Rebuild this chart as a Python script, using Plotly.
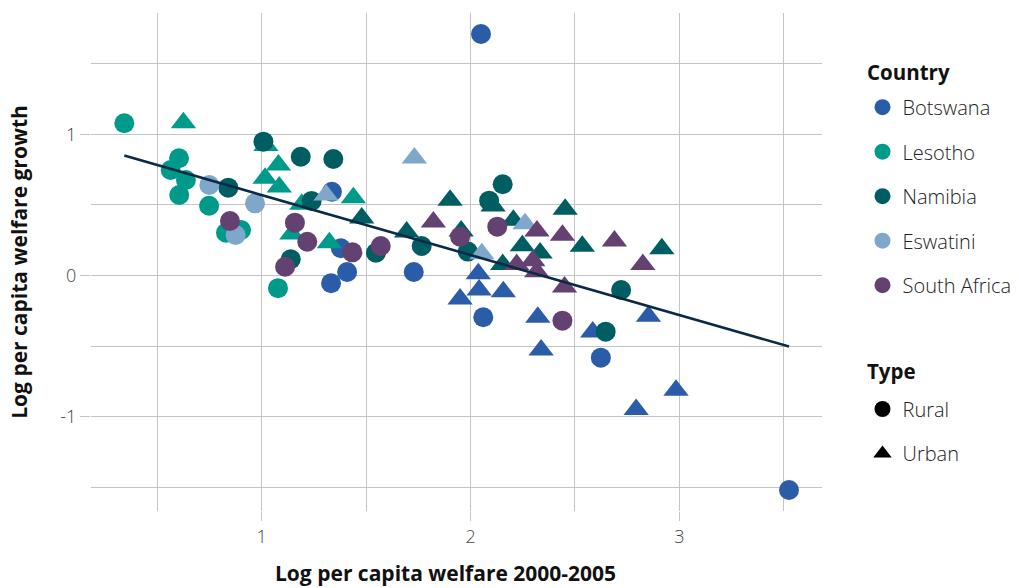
import plotly.graph_objects as go

# ---------------- data ----------------
countries = ["Botswana", "Lesotho", "Namibia", "Eswatini", "South Africa"]
colors = ["#2b5ca8", "#009a8b", "#005e63", "#7fa7cc", "#634272"]

botswana_rural_x = [2.050, 3.525, 1.332, 1.409, 1.728, 1.379, 1.336, 2.061, 2.624]
botswana_rural_y = [1.710, -1.519, -0.055, 0.025, 0.025, 0.193, 0.593, -0.296, -0.582]
botswana_urban_x = [2.037, 2.041, 1.950, 2.157, 2.322, 2.338, 2.585, 2.852, 2.984, 2.793]
botswana_urban_y = [0.013, -0.103, -0.166, -0.115, -0.296, -0.528, -0.400, -0.289, -0.813, -0.950]

lesotho_rural_x = [0.342, 0.604, 0.564, 0.637, 0.605, 0.748, 0.829, 0.901, 1.078]
lesotho_rural_y = [1.078, 0.830, 0.747, 0.676, 0.570, 0.494, 0.303, 0.322, -0.090]
lesotho_urban_x = [0.625, 1.020, 1.080, 1.016, 1.084, 1.192, 1.439, 1.324, 1.144]
lesotho_urban_y = [1.082, 0.920, 0.783, 0.688, 0.627, 0.504, 0.551, 0.232, 0.294]

namibia_rural_x = [0.840, 1.008, 1.187, 1.343, 1.239, 1.139, 1.547, 1.766, 1.987, 2.089, 2.154, 2.721, 2.647]
namibia_rural_y = [0.622, 0.948, 0.841, 0.825, 0.528, 0.115, 0.161, 0.209, 0.169, 0.530, 0.646, -0.103, -0.398]
namibia_urban_x = [1.479, 1.694, 1.902, 1.955, 2.108, 2.205, 2.248, 2.154, 2.333, 2.453, 2.535, 2.916]
namibia_urban_y = [0.407, 0.308, 0.533, 0.315, 0.492, 0.391, 0.211, 0.077, 0.159, 0.469, 0.207, 0.190]

eswatini_rural_x = [0.749, 0.968, 0.875]
eswatini_rural_y = [0.641, 0.511, 0.287]
eswatini_urban_x = [1.731, 1.308, 2.261, 2.054]
eswatini_urban_y = [0.832, 0.570, 0.367, 0.154]

southafrica_rural_x = [0.848, 1.159, 1.218, 1.112, 1.434, 1.570, 1.950, 2.128, 2.440]
southafrica_rural_y = [0.386, 0.374, 0.239, 0.062, 0.164, 0.209, 0.275, 0.346, -0.320]
southafrica_urban_x = [1.822, 2.318, 2.440, 2.221, 2.298, 2.317, 2.450, 2.689, 2.825]
southafrica_urban_y = [0.379, 0.315, 0.285, 0.077, 0.105, 0.027, -0.081, 0.244, 0.077]

rural_x = [botswana_rural_x, lesotho_rural_x, namibia_rural_x, eswatini_rural_x, southafrica_rural_x]
rural_y = [botswana_rural_y, lesotho_rural_y, namibia_rural_y, eswatini_rural_y, southafrica_rural_y]
urban_x = [botswana_urban_x, lesotho_urban_x, namibia_urban_x, eswatini_urban_x, southafrica_urban_x]
urban_y = [botswana_urban_y, lesotho_urban_y, namibia_urban_y, eswatini_urban_y, southafrica_urban_y]

types = ["Rural", "Urban"]
type_symbols = ["circle", "triangle-up"]

trend_intercept = 0.995
trend_slope = -0.425
trend_color = "#0b2a47"

x_ticks = [1, 2, 3]
y_ticks = [-1, 0, 1]

x_title = "Log per capita welfare 2000-2005"
y_title = "Log per capita welfare growth"

# ---------------- figure ----------------
FONT = "Open Sans, Segoe UI, sans-serif"
GRID = "#c4c4c4"

fig = go.Figure()

for i, c in enumerate(countries):
    fig.add_trace(go.Scatter(
        x=rural_x[i], y=rural_y[i], mode="markers", name=c + " rural",
        marker=dict(symbol=type_symbols[0], size=20, color=colors[i], line=dict(width=0)),
        showlegend=False, hoverinfo="x+y+name"))
    fig.add_trace(go.Scatter(
        x=urban_x[i], y=urban_y[i], mode="markers", name=c + " urban",
        marker=dict(symbol=type_symbols[1], size=22, color=colors[i], line=dict(width=0)),
        showlegend=False, hoverinfo="x+y+name"))

all_x = [v for lst in rural_x + urban_x for v in lst]
x_min, x_max = min(all_x), max(all_x)
fig.add_trace(go.Scatter(
    x=[x_min, x_max],
    y=[trend_intercept + trend_slope * x_min, trend_intercept + trend_slope * x_max],
    mode="lines", line=dict(color=trend_color, width=2.6), showlegend=False, hoverinfo="skip"))

# legend entries
for i, c in enumerate(countries):
    fig.add_trace(go.Scatter(
        x=[None], y=[None], mode="markers", name=c, legend="legend", legendgroup="c" + str(i),
        marker=dict(symbol="circle", size=20, color=colors[i])))
for j, t in enumerate(types):
    fig.add_trace(go.Scatter(
        x=[None], y=[None], mode="markers", name=t, legend="legend2", legendgroup="t" + str(j),
        marker=dict(symbol=type_symbols[j], size=20, color="#000000")))

legend_common = dict(
    font=dict(family=FONT, size=20, color="#222222", weight=300),
    bgcolor="rgba(0,0,0,0)", borderwidth=0, xanchor="left", yanchor="top",
    tracegroupgap=15.5, itemclick=False, itemdoubleclick=False,
)

fig.update_layout(
    width=1019, height=588,
    margin=dict(l=91, r=197, t=13, b=77, autoexpand=False),
    paper_bgcolor="white", plot_bgcolor="white",
    font=dict(family=FONT, color="#222222"),
    xaxis=dict(
        range=[0.1825, 3.683], tickmode="array", tickvals=x_ticks,
        ticktext=[str(v) for v in x_ticks], automargin=False,
        showgrid=True, gridcolor=GRID, gridwidth=1.2, zeroline=False, showline=False,
        ticks="outside", ticklen=9, tickcolor=GRID, tickwidth=1.2,
        tickfont=dict(family=FONT, size=18, color="#444444", weight=300),
        minor=dict(tickmode="array", tickvals=[0.5, 1.5, 2.5, 3.5], showgrid=True,
                   gridcolor=GRID, gridwidth=1.2, ticks=""),
    ),
    yaxis=dict(
        range=[-1.668, 1.859], tickmode="array", tickvals=y_ticks,
        ticktext=[str(v) for v in y_ticks], automargin=False,
        showgrid=True, gridcolor=GRID, gridwidth=1.2, zeroline=False, showline=False,
        ticks="outside", ticklen=10, tickcolor=GRID, tickwidth=1.2,
        tickfont=dict(family=FONT, size=18, color="#444444", weight=300),
        minor=dict(tickmode="array", tickvals=[-1.5, -0.5, 0.5, 1.5], showgrid=True,
                   gridcolor=GRID, gridwidth=1.2, ticks=""),
        title=dict(text=y_title, standoff=26,
                   font=dict(family=FONT, size=21, color="#111111", weight="bold")),
    ),
    legend=dict(x=1.0554, y=0.85, **legend_common),
    legend2=dict(x=1.0554, y=0.244, **legend_common),
    showlegend=True,
    annotations=[
        dict(text="<b>" + x_title + "</b>", xref="paper", yref="paper", x=0.4843, y=-0.1245,
             xanchor="center", yanchor="middle", showarrow=False,
             font=dict(family=FONT, size=21, color="#111111")),
        dict(text="<b>Country</b>", xref="paper", yref="paper", x=1.059, y=0.8815,
             xanchor="left", yanchor="middle", showarrow=False,
             font=dict(family=FONT, size=20.5, color="#111111")),
        dict(text="<b>Type</b>", xref="paper", yref="paper", x=1.059, y=0.2811,
             xanchor="left", yanchor="middle", showarrow=False,
             font=dict(family=FONT, size=20.5, color="#111111")),
    ],
)

# remove the default 8px page margin so the figure sits at the window's top-left corner
fig.write_html(
    "out.html",
    config={"displayModeBar": False},
    post_script=("document.body.style.margin='0';"
                 "document.body.style.overflow='hidden';"
                 "document.documentElement.style.overflow='hidden';"),
)
